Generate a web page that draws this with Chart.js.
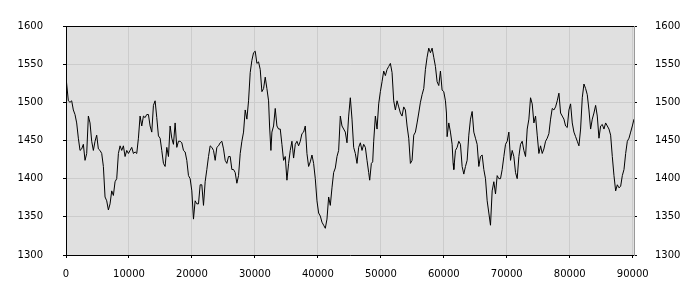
<!DOCTYPE html>
<html>
<head>
<meta charset="utf-8">
<title>Series</title>
<script src="https://cdn.jsdelivr.net/npm/chart.js@4/dist/chart.umd.min.js"></script>
<style>
  body { margin: 0; background: #fff; }
  canvas { display: block; }
</style>
</head>
<body>
<canvas id="seriesChart" width="700" height="300"></canvas>
<script>
// Valores
const sampleX = [
  0, 371, 636, 901, 1166, 1431, 1696, 1961, 2226, 2491, 2756, 3021, 3286, 3551, 3816, 4081, 4346, 4611, 4876, 5141,
  5406, 5671, 5936, 6201, 6466, 6731, 6996, 7261, 7526, 7791, 8056, 8321, 8586, 8851, 9116, 9381, 9646, 9911, 10176, 10441,
  10706, 10971, 11236, 11501, 11766, 12031, 12296, 12561, 12826, 13091, 13356, 13621, 13886, 14151, 14416, 14681, 14946, 15211, 15476, 15741,
  16006, 16271, 16536, 16801, 17066, 17331, 17596, 17861, 18126, 18391, 18656, 18921, 19186, 19451, 19716, 19981, 20246, 20511, 20776, 21041,
  21306, 21571, 21836, 22101, 22366, 22631, 22896, 23161, 23426, 23691, 23956, 24221, 24486, 24751, 25016, 25281, 25546, 25811, 26076, 26341,
  26606, 26871, 27136, 27401, 27666, 27931, 28196, 28461, 28726, 28991, 29256, 29521, 29786, 30051, 30316, 30581, 30846, 31111, 31376, 31641,
  31906, 32171, 32330, 32542, 32701, 32966, 33231, 33496, 33761, 34026, 34291, 34556, 34821, 35086, 35351, 35616, 35881, 36146, 36411, 36676,
  36941, 37206, 37471, 37736, 38001, 38266, 38531, 38796, 39061, 39326, 39591, 39856, 40121, 40386, 40651, 40916, 41181, 41446, 41711, 41976,
  42241, 42506, 42771, 43036, 43301, 43566, 43831, 44096, 44361, 44626, 44891, 45156, 45421, 45686, 45951, 46216, 46481, 46746, 47011, 47276,
  47541, 47806, 48071, 48230, 48495, 48707, 48866, 49131, 49396, 49661, 49926, 50191, 50456, 50721, 50986, 51251, 51516, 51781, 52046, 52311,
  52576, 52841, 53106, 53371, 53636, 53901, 54166, 54431, 54696, 54961, 55226, 55491, 55756, 56021, 56286, 56551, 56816, 57081, 57346, 57611,
  57876, 58141, 58406, 58671, 58936, 59201, 59466, 59731, 59996, 60261, 60420, 60526, 60791, 61056, 61321, 61480, 61586, 61851, 62116, 62381,
  62646, 62911, 63176, 63441, 63706, 63971, 64236, 64501, 64766, 65031, 65296, 65561, 65826, 66091, 66356, 66621, 66886, 67151, 67416, 67681,
  67946, 68211, 68476, 68741, 69006, 69271, 69536, 69801, 70066, 70331, 70596, 70861, 71126, 71391, 71656, 71921, 72186, 72451, 72716, 72981,
  73246, 73511, 73776, 74041, 74306, 74571, 74836, 75101, 75366, 75631, 75896, 76161, 76426, 76691, 76956, 77221, 77486, 77751, 78016, 78281,
  78546, 78811, 79076, 79341, 79606, 79871, 80136, 80401, 80666, 80931, 81196, 81461, 81726, 81991, 82256, 82521, 82786, 83051, 83316, 83581,
  83846, 84111, 84376, 84641, 84906, 85171, 85436, 85701, 85966, 86231, 86496, 86761, 87026, 87291, 87556, 87821, 88086, 88351, 88616, 88881,
  89146, 89411, 89676, 89941, 90206
];

const sampleY = [
  1533, 1502, 1500, 1502, 1490, 1484, 1473, 1453, 1437, 1439, 1445, 1424, 1433, 1482, 1473, 1449, 1437, 1449, 1457, 1439,
  1437, 1433, 1416, 1376, 1371, 1359, 1367, 1384, 1378, 1396, 1400, 1433, 1443, 1437, 1443, 1429, 1437, 1433, 1437, 1441,
  1433, 1435, 1433, 1453, 1482, 1469, 1482, 1480, 1484, 1484, 1469, 1461, 1496, 1502, 1480, 1456, 1453, 1437, 1420, 1416,
  1441, 1429, 1469, 1453, 1445, 1473, 1441, 1449, 1449, 1447, 1437, 1435, 1424, 1404, 1400, 1384, 1347, 1371, 1367, 1367,
  1392, 1392, 1365, 1396, 1412, 1429, 1443, 1441, 1437, 1424, 1441, 1443, 1447, 1449, 1439, 1424, 1420, 1429, 1429, 1412,
  1412, 1408, 1394, 1404, 1433, 1449, 1461, 1490, 1478, 1502, 1539, 1555, 1565, 1567, 1551, 1553, 1543, 1514, 1518, 1533,
  1518, 1502, 1469, 1437, 1461, 1469, 1492, 1469, 1465, 1465, 1445, 1424, 1429, 1398, 1420, 1437, 1449, 1427, 1445, 1449,
  1443, 1449, 1459, 1461, 1469, 1433, 1416, 1422, 1431, 1420, 1400, 1371, 1355, 1351, 1343, 1339, 1335, 1347, 1376, 1365,
  1388, 1408, 1414, 1429, 1437, 1482, 1469, 1465, 1461, 1447, 1482, 1506, 1478, 1441, 1433, 1420, 1441, 1447, 1437, 1445,
  1441, 1424, 1408, 1398, 1420, 1422, 1449, 1482, 1465, 1498, 1514, 1527, 1541, 1535, 1543, 1547, 1551, 1539, 1502, 1490,
  1502, 1494, 1486, 1482, 1494, 1490, 1469, 1453, 1420, 1424, 1457, 1461, 1473, 1486, 1500, 1510, 1518, 1543, 1559, 1571,
  1565, 1571, 1559, 1547, 1527, 1522, 1541, 1516, 1514, 1502, 1486, 1455, 1473, 1461, 1445, 1420, 1412, 1437, 1441, 1449,
  1445, 1416, 1406, 1416, 1424, 1457, 1478, 1488, 1461, 1453, 1445, 1416, 1429, 1431, 1412, 1400, 1371, 1355, 1339, 1384,
  1396, 1380, 1404, 1400, 1400, 1412, 1429, 1445, 1449, 1461, 1424, 1437, 1429, 1408, 1400, 1429, 1445, 1449, 1437, 1429,
  1465, 1478, 1506, 1498, 1473, 1482, 1457, 1433, 1443, 1433, 1439, 1449, 1453, 1459, 1478, 1492, 1490, 1494, 1502, 1512,
  1486, 1482, 1478, 1469, 1467, 1490, 1498, 1473, 1461, 1455, 1449, 1443, 1465, 1506, 1524, 1518, 1510, 1490, 1465, 1478,
  1486, 1496, 1482, 1453, 1469, 1471, 1465, 1473, 1469, 1465, 1457, 1429, 1404, 1384, 1392, 1388, 1390, 1404, 1412, 1433,
  1449, 1453, 1461, 1469, 1478
];

// Rótulos dos eixos
const xTicks = [0, 10000, 20000, 30000, 40000, 50000, 60000, 70000, 80000, 90000];
const yTicks = [1300, 1350, 1400, 1450, 1500, 1550, 1600];

// Fundo cinza da área do gráfico e borda superior
const plotFrame = {
  id: 'plotFrame',
  beforeDraw(chart) {
    const { ctx, chartArea: a } = chart;
    ctx.save();
    ctx.fillStyle = '#e0e0e0';
    ctx.fillRect(a.left, a.top, a.right - a.left, a.bottom - a.top);
    ctx.restore();
  },
  afterDraw(chart) {
    const { ctx, chartArea: a } = chart;
    ctx.save();
    ctx.strokeStyle = '#000';
    ctx.lineWidth = 1;
    ctx.beginPath();
    ctx.moveTo(a.left, a.top + 0.5);
    ctx.lineTo(a.right, a.top + 0.5);
    ctx.stroke();
    ctx.restore();
  }
};

const tickFont = { family: 'DejaVu Sans', size: 10 };
const fixTicks = list => scale => { scale.ticks = list.map(v => ({ value: v })); };

new Chart(document.getElementById('seriesChart'), {
  type: 'line',
  data: {
    datasets: [{
      data: sampleX.map((x, i) => ({ x: x, y: sampleY[i] })),
      borderColor: '#000',
      borderWidth: 1,
      pointRadius: 0,
      tension: 0,
      fill: false
    }]
  },
  options: {
    responsive: false,
    animation: false,
    layout: { padding: { top: 10, right: 0, bottom: 0, left: 0 } },
    plugins: { legend: { display: false }, tooltip: { enabled: false } },
    scales: {
      x: {
        type: 'linear',
        min: 0,
        max: sampleX[sampleX.length - 1],
        afterBuildTicks: fixTicks(xTicks),
        afterFit(scale) { scale.height = 45; },
        grid: { color: '#cccccc', tickColor: '#000', tickLength: 3 },
        border: { color: '#000' },
        ticks: {
          autoSkip: false,
          maxRotation: 0,
          padding: 10,
          color: '#000',
          font: tickFont,
          callback: v => String(v)
        }
      },
      y: {
        position: 'left',
        min: yTicks[0],
        max: yTicks[yTicks.length - 1],
        afterBuildTicks: fixTicks(yTicks),
        afterFit(scale) { scale.width = 66; },
        grid: { color: '#cccccc', tickColor: '#000', tickLength: 3 },
        border: { color: '#000' },
        ticks: { padding: 20, color: '#000', font: tickFont, callback: v => String(v) }
      },
      y2: {
        position: 'right',
        min: yTicks[0],
        max: yTicks[yTicks.length - 1],
        afterBuildTicks: fixTicks(yTicks),
        afterFit(scale) { scale.width = 66; },
        grid: { drawOnChartArea: false, tickColor: '#000', tickLength: 3 },
        border: { color: '#999999' },
        ticks: { padding: 18, color: '#000', font: tickFont, callback: v => String(v) }
      }
    }
  },
  plugins: [plotFrame]
});
</script>
</body>
</html>
